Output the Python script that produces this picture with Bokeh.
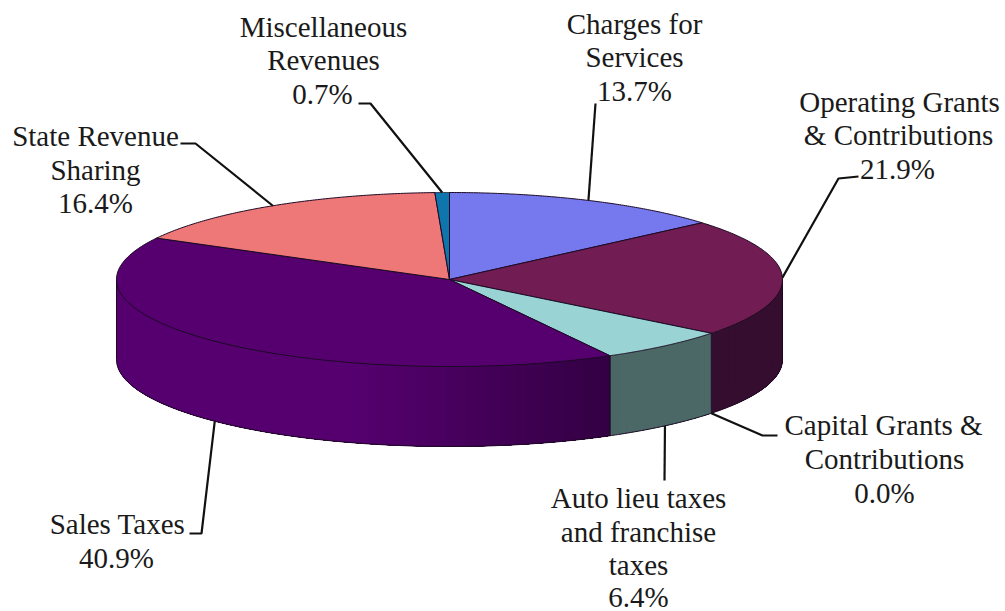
import numpy as np
from bokeh.embed import file_html
from bokeh.models import Range1d
from bokeh.plotting import figure
from bokeh.resources import INLINE
from bokeh.core.properties import value

# Revenue shares, clockwise from twelve o'clock
categories = ["Charges for Services", "Operating Grants & Contributions",
              "Capital Grants & Contributions", "Auto lieu taxes and franchise taxes",
              "Sales Taxes", "State Revenue Sharing", "Miscellaneous Revenues"]
shares = [13.7, 21.9, 0.0, 6.4, 40.9, 16.4, 0.7]

top_colors = ["#7678ee", "#721c54", "#8e8ed0", "#99d3d3", "#560070", "#ee7777", "#0f76ad"]
wall_light = ["#7678ee", "#360f30", "#8e8ed0", "#4d6a69", "#560070", "#ee7777", "#0f76ad"]
wall_dark = ["#7678ee", "#2c0826", "#8e8ed0", "#456160", "#2e003c", "#ee7777", "#0f76ad"]

# Label rows per slice: text, centre x, centre y
label_rows = [
    [("Charges for", 634, 23), ("Services", 634, 56), ("13.7%", 634, 90)],
    [("Operating Grants", 899, 101), ("& Contributions", 898, 134), ("21.9%", 897, 168)],
    [("Capital Grants &", 883, 424), ("Contributions", 884, 458), ("0.0%", 884, 492)],
    [("Auto lieu taxes", 638, 497), ("and franchise", 638, 531), ("taxes", 638, 564), ("6.4%", 638, 596)],
    [("Sales Taxes", 117, 523), ("40.9%", 116, 557)],
    [("State Revenue", 95, 135), ("Sharing", 95, 169), ("16.4%", 95, 202)],
    [("Miscellaneous", 323, 26), ("Revenues", 323, 59), ("0.7%", 322, 93)],
]

# Leader-line elbows running from each label towards its slice
leader_elbows = [
    [(595, 103)],
    [(858, 176), (838, 178)],
    [(777, 435), (762, 435)],
    [(664, 480)],
    [(189, 533), (201, 533)],
    [(180, 143), (195, 143)],
    [(358, 103), (370, 103)],
]

CX, CY, RX, RY, DEPTH = 449, 279, 333, 87, 80


def rim(theta, drop=0.0):
    return CX + RX * np.sin(theta), CY - RY * np.cos(theta) + drop


p = figure(width=1005, height=611, output_backend="svg", toolbar_location=None,
           x_range=Range1d(0, 1005), y_range=Range1d(611, 0), min_border=0,
           outline_line_color=None, background_fill_color="white",
           border_fill_color="white")
p.axis.visible = False
p.grid.visible = False

edges = np.concatenate([[0], np.cumsum(shares)]) / np.sum(shares) * 2 * np.pi
edge = "#1c0a24"

# Outer wall of the disc: only the part facing the viewer. Each shade band reaches
# back to the start of the wall and the next band paints over it, which avoids seams.
for i in range(len(shares)):
    lo = max(edges[i], np.pi / 2)
    hi = min(edges[i + 1], 3 * np.pi / 2)
    if hi <= lo:
        continue
    steps = np.linspace(hi, lo, max(2, int((hi - lo) / 0.03)) + 1)
    light = np.array([int(wall_light[i][k:k + 2], 16) for k in (1, 3, 5)])
    dark = np.array([int(wall_dark[i][k:k + 2], 16) for k in (1, 3, 5)])
    for a, b in zip(steps[:-1], steps[1:]):
        t = np.sin((a + b) / 2)  # +1 on the right, -1 on the left
        mix = np.clip((t + 0.3) / 0.9, 0, 1) if i == 4 else (1 - (t + 1) / 2)
        c = light + (dark - light) * mix
        col = "#%02x%02x%02x" % tuple(int(v) for v in c)
        th = np.linspace(lo, a, 60)
        x0, y0 = rim(th)
        x1, y1 = rim(th[::-1], DEPTH)
        p.patch(np.r_[x0, x1], np.r_[y0, y1], fill_color=col, line_color=None)
    th = np.linspace(lo, hi, 80)
    x0, y0 = rim(th)
    x1, y1 = rim(th, DEPTH)
    p.line(x1, y1, line_color=edge, line_width=1)
    p.line([x1[0], x0[0]], [y1[0], y0[0]], line_color=edge, line_width=1)
    p.line([x1[-1], x0[-1]], [y1[-1], y0[-1]], line_color=edge, line_width=1)

# Top face of each slice
for i in range(len(shares)):
    if shares[i] == 0:
        continue
    th = np.linspace(edges[i], edges[i + 1], 120)
    x, y = rim(th)
    p.patch(np.r_[CX, x], np.r_[CY, y], fill_color=top_colors[i],
            line_color=edge, line_width=1)

# Leaders end on the rim at each slice's middle; lower slices end on the wall base
for i, elbows in enumerate(leader_elbows):
    mid = (edges[i] + edges[i + 1]) / 2
    front = np.pi / 2 < mid < 3 * np.pi / 2
    ax, ay = rim(mid, DEPTH if front else 0)
    xs = [e[0] for e in elbows] + [float(ax)]
    ys = [e[1] for e in elbows] + [float(ay)]
    p.line(xs, ys, line_color="#111111", line_width=2.2)

for rows in label_rows:
    p.text([r[1] for r in rows], [r[2] for r in rows], text=[r[0] for r in rows],
           text_font=value("Liberation Serif"), text_font_size="29px",
           text_align="center", text_baseline="middle", text_color="#1a1a1a")

open("out.html", "w").write(file_html(p, INLINE))
